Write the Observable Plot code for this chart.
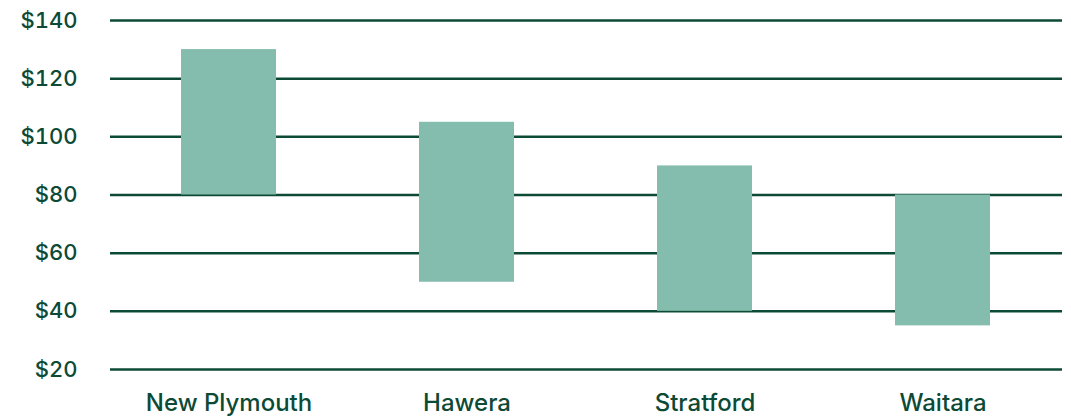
<!DOCTYPE html>
<html><head><meta charset="utf-8">
<script src="https://cdn.jsdelivr.net/npm/d3@7"></script>
<script src="https://cdn.jsdelivr.net/npm/@observablehq/plot@0.6"></script>
<style>body{margin:0;background:#fff;} #chart{width:1071px;height:417px;}</style>
</head><body><div id="chart"></div>
<script>
const towns = ["New Plymouth", "Hawera", "Stratford", "Waitara"];
const lowValues = [80, 50, 40, 35];
const highValues = [130, 105, 90, 80];
const yTicks = [20, 40, 60, 80, 100, 120, 140];

const rows = towns.map((t, i) => ({town: t, low: lowValues[i], high: highValues[i]}));
const ink = "#0d4a36";

const chart = Plot.plot({
  width: 1071,
  height: 417,
  marginLeft: 110,
  marginRight: 9,
  marginTop: 20,
  marginBottom: 48,
  style: {fontFamily: "Inter, sans-serif", fontSize: "22px", fontWeight: 500, color: ink, background: "#fff", overflow: "visible"},
  x: {domain: towns, paddingInner: 0.6, paddingOuter: 0.3, label: null},
  y: {domain: [20, 140], label: null},
  marks: [
    Plot.ruleY(yTicks, {stroke: ink, strokeWidth: 2.5}),
    Plot.barY(rows, {x: "town", y1: "low", y2: "high", fill: "#84bcad"}),
    Plot.axisY({ticks: yTicks, tickSize: 0, tickPadding: 33, tickFormat: d => "$" + d, fill: ink, fontSize: 22, fontWeight: 500}),
    Plot.axisX({tickSize: 0, tickPadding: 24, fill: ink, fontSize: 24, fontWeight: 500})
  ]
});
document.getElementById("chart").appendChild(chart);
</script></body></html>
